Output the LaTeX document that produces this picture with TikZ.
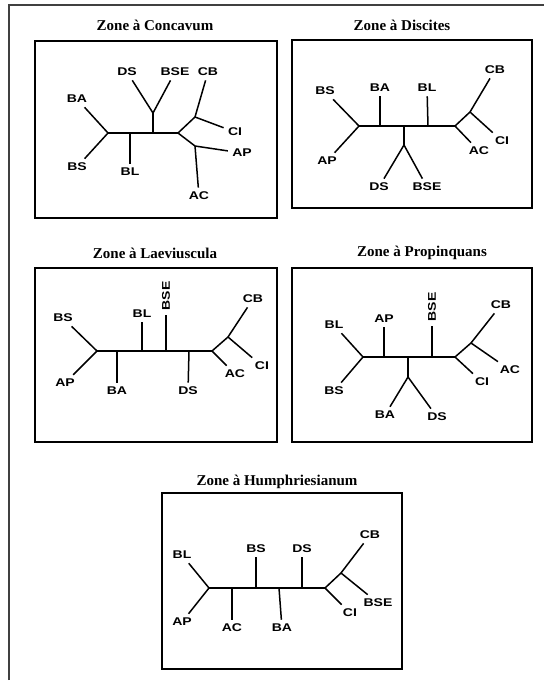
\documentclass[tikz,border=0pt]{standalone}
\usepackage{fontspec}
\usepackage{tikz}
\newfontfamily\taxonfont[FakeStretch=1.25]{Liberation Sans}
\newfontfamily\zonefont{Liberation Serif}

\begin{document}
\begin{tikzpicture}[x=0.5pt,y=-0.5pt,
	zone/.style={draw=black, line width=0.8pt},
	branch/.style={draw=black, line width=0.75pt},
	taxon/.style={font=\taxonfont\bfseries\fontsize{5.6}{6.5}\selectfont, inner sep=1pt, outer sep=1.2pt},
	titre/.style={font=\zonefont\bfseries\fontsize{7.5}{9}\selectfont}]
	\useasboundingbox (0,0) rectangle (544,682);
	% page frame
	\draw [line width=0.8pt, black!75] (9,680) -- (9,5) -- (544,5);

	% Zone a Concavum
	\node[titre] (t-conc) at (155,25) {Zone à Concavum};
	\draw[zone] (35,41) rectangle (277,218);
	% label
	\node[taxon] (c-ba) at (77,99) {BA};
	\node[taxon] (c-bs) at (77,167) {BS};
	\node[taxon] (c-bl) at (130,172) {BL};
	\node[taxon] (c-ds) at (127,72) {DS};
	\node[taxon] (c-bse) at (175,72) {BSE};
	\node[taxon] (c-cb) at (208,72) {CB};
	\node[taxon] (c-ci) at (235,132) {CI};
	\node[taxon] (c-ap) at (242,153) {AP};
	\node[taxon] (c-ac) at (199,196) {AC};
	% junctions
	\coordinate (c1) at (108,133);
	\coordinate (c2) at (130,133);
	\coordinate (c3) at (153,133);
	\coordinate (c4) at (153,113);
	\coordinate (c5) at (178,133);
	\coordinate (c6) at (195,117);
	\coordinate (c7) at (195,146);
	% branches
	\draw[branch] (c-ba) -- (c1) -- (c-bs);
	\draw[branch] (c1) -- (c5);
	\draw[branch] (c2) -- (c-bl);
	\draw[branch] (c3) -- (c4);
	\draw[branch] (c-ds) -- (c4) -- (c-bse);
	\draw[branch] (c5) -- (c6) -- (c-cb);
	\draw[branch] (c6) -- (c-ci);
	\draw[branch] (c5) -- (c7) -- (c-ap);
	\draw[branch] (c7) -- (c-ac);

	% Zone a Discites
	\node[titre] (t-disc) at (402,25) {Zone à Discites};
	\draw[zone] (292,40) rectangle (532,208);
	% label
	\node[taxon] (d-bs) at (325,91) {BS};
	\node[taxon] (d-ap) at (327,161) {AP};
	\node[taxon] (d-ba) at (380,88) {BA};
	\node[taxon] (d-bl) at (427,88) {BL};
	\node[taxon] (d-ds) at (379,187) {DS};
	\node[taxon] (d-bse) at (427,187) {BSE};
	\node[taxon] (d-cb) at (495,70) {CB};
	\node[taxon] (d-ci) at (502,141) {CI};
	\node[taxon] (d-ac) at (479,151) {AC};
	% junctions
	\coordinate (d1) at (359,126);
	\coordinate (d2) at (380,126);
	\coordinate (d3) at (404,126);
	\coordinate (d4) at (404,145);
	\coordinate (d5) at (428,126);
	\coordinate (d6) at (455,126);
	\coordinate (d7) at (470,112);
	% branches
	\draw[branch] (d-bs) -- (d1) -- (d-ap);
	\draw[branch] (d1) -- (d6);
	\draw[branch] (d2) -- (d-ba);
	\draw[branch] (d5) -- (d-bl);
	\draw[branch] (d3) -- (d4);
	\draw[branch] (d-ds) -- (d4) -- (d-bse);
	\draw[branch] (d6) -- (d7) -- (d-cb);
	\draw[branch] (d7) -- (d-ci);
	\draw[branch] (d6) -- (d-ac);

	% Zone a Laeviuscula
	\node[titre] (t-laev) at (155,253) {Zone à Laeviuscula};
	\draw[zone] (35,268) rectangle (277,442);
	% label
	\node[taxon] (l-bs) at (63,318) {BS};
	\node[taxon] (l-ap) at (65,383) {AP};
	\node[taxon] (l-ba) at (117,391) {BA};
	\node[taxon] (l-bl) at (142,314) {BL};
	\node[taxon, rotate=90] (l-bse) at (166,296) {BSE};
	\node[taxon] (l-ds) at (188,391) {DS};
	\node[taxon] (l-cb) at (253,299) {CB};
	\node[taxon] (l-ci) at (262,366) {CI};
	\node[taxon] (l-ac) at (235,374) {AC};
	% junctions
	\coordinate (l1) at (97,351);
	\coordinate (l2) at (117,351);
	\coordinate (l3) at (142,351);
	\coordinate (l4) at (166,351);
	\coordinate (l5) at (189,351);
	\coordinate (l6) at (212,351);
	\coordinate (l7) at (228,337);
	% branches
	\draw[branch] (l-bs) -- (l1) -- (l-ap);
	\draw[branch] (l1) -- (l6);
	\draw[branch] (l2) -- (l-ba);
	\draw[branch] (l3) -- (l-bl);
	\draw[branch] (l4) -- (l-bse);
	\draw[branch] (l5) -- (l-ds);
	\draw[branch] (l6) -- (l7) -- (l-cb);
	\draw[branch] (l7) -- (l-ci);
	\draw[branch] (l6) -- (l-ac);

	% Zone a Propinquans
	\node[titre] (t-prop) at (422,253) {Zone à Propinquans};
	\draw[zone] (292,268) rectangle (532,442);
	% label
	\node[taxon] (p-bl) at (334,325) {BL};
	\node[taxon] (p-bs) at (334,391) {BS};
	\node[taxon] (p-ap) at (384,319) {AP};
	\node[taxon] (p-ba) at (385,415) {BA};
	\node[taxon] (p-ds) at (437,417) {DS};
	\node[taxon, rotate=90] (p-bse) at (432,307) {BSE};
	\node[taxon] (p-cb) at (501,305) {CB};
	\node[taxon] (p-ac) at (510,370) {AC};
	\node[taxon] (p-ci) at (482,382) {CI};
	% junctions
	\coordinate (p1) at (363,357);
	\coordinate (p2) at (384,357);
	\coordinate (p3) at (408,357);
	\coordinate (p4) at (408,377);
	\coordinate (p5) at (432,357);
	\coordinate (p6) at (455,357);
	\coordinate (p7) at (471,343);
	% branches
	\draw[branch] (p-bl) -- (p1) -- (p-bs);
	\draw[branch] (p1) -- (p6);
	\draw[branch] (p2) -- (p-ap);
	\draw[branch] (p3) -- (p4);
	\draw[branch] (p-ba) -- (p4) -- (p-ds);
	\draw[branch] (p5) -- (p-bse);
	\draw[branch] (p6) -- (p7) -- (p-cb);
	\draw[branch] (p7) -- (p-ac);
	\draw[branch] (p6) -- (p-ci);

	% Zone a Humphriesianum
	\node[titre] (t-hump) at (277,482) {Zone à Humphriesianum};
	\draw[zone] (162,493) rectangle (402,669);
	% label
	\node[taxon] (h-bl) at (182,555) {BL};
	\node[taxon] (h-ap) at (182,622) {AP};
	\node[taxon] (h-ac) at (232,628) {AC};
	\node[taxon] (h-bs) at (256,549) {BS};
	\node[taxon] (h-ba) at (282,628) {BA};
	\node[taxon] (h-ds) at (302,549) {DS};
	\node[taxon] (h-cb) at (370,535) {CB};
	\node[taxon] (h-bse) at (378,603) {BSE};
	\node[taxon] (h-ci) at (350,613) {CI};
	% junctions
	\coordinate (h1) at (209,588);
	\coordinate (h2) at (232,588);
	\coordinate (h3) at (256,588);
	\coordinate (h4) at (279,588);
	\coordinate (h5) at (302,588);
	\coordinate (h6) at (325,588);
	\coordinate (h7) at (341,573);
	% branches
	\draw[branch] (h-bl) -- (h1) -- (h-ap);
	\draw[branch] (h1) -- (h6);
	\draw[branch] (h2) -- (h-ac);
	\draw[branch] (h3) -- (h-bs);
	\draw[branch] (h4) -- (h-ba);
	\draw[branch] (h5) -- (h-ds);
	\draw[branch] (h6) -- (h7) -- (h-cb);
	\draw[branch] (h7) -- (h-bse);
	\draw[branch] (h6) -- (h-ci);
\end{tikzpicture}
\end{document}
